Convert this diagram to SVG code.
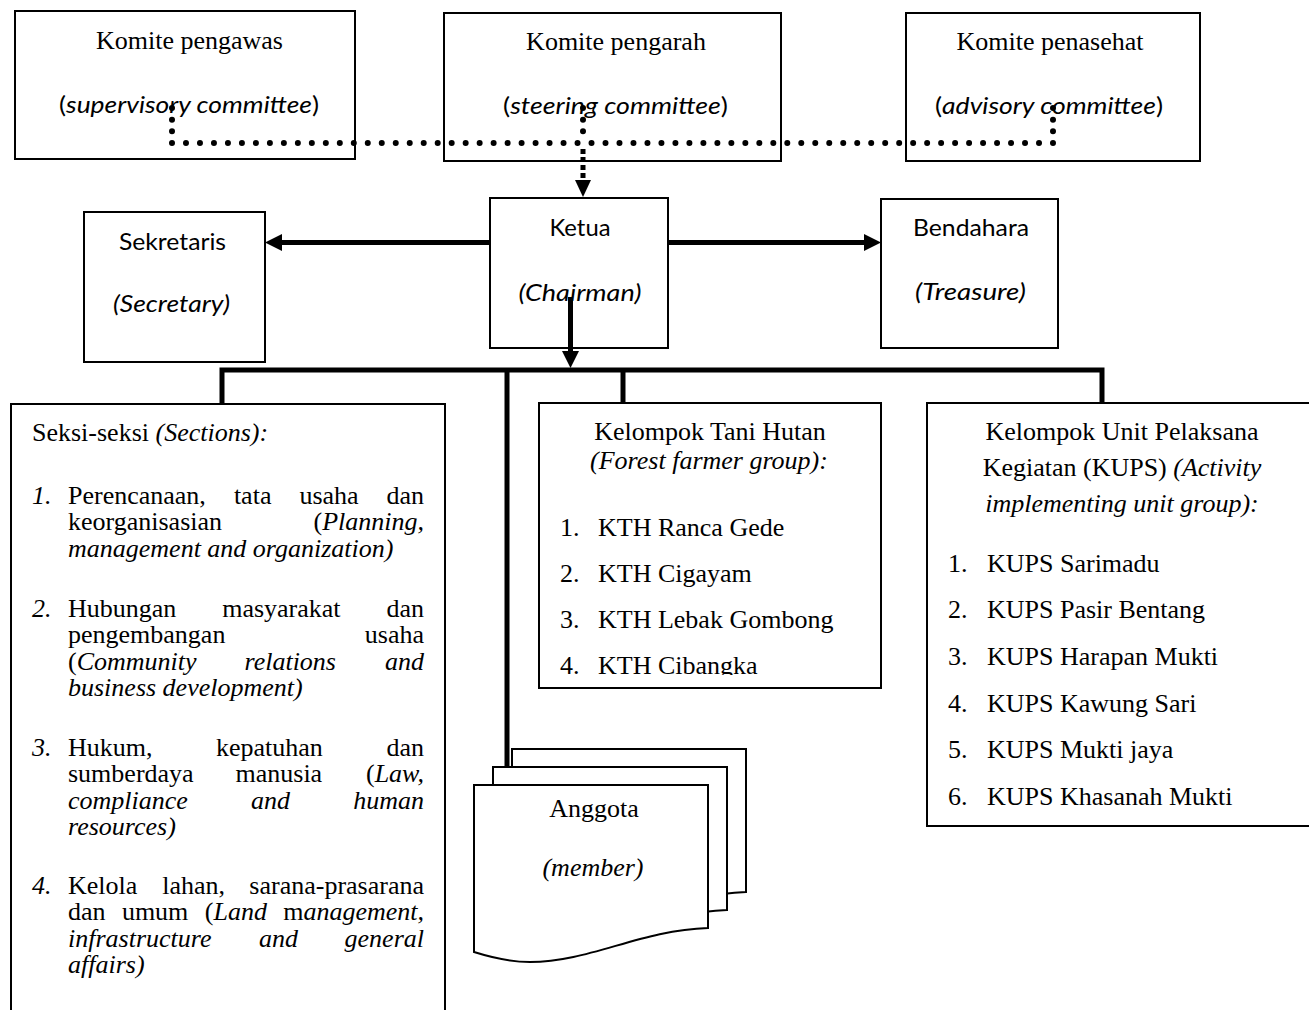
<svg xmlns="http://www.w3.org/2000/svg" width="1309" height="1010" viewBox="0 0 1309 1010">
<style>
.box{fill:#fff;stroke:#000;stroke-width:2}
.tr{font-family:"Liberation Serif","Times New Roman",serif;font-size:26px;fill:#000}
.it{font-style:italic}
.ca{font-family:Lato,"Open Sans",sans-serif;font-size:24px;fill:#000}
.thick{stroke:#000;stroke-width:5;fill:none}
.dots{stroke:#000;stroke-width:6;stroke-linecap:round;fill:none}
.head{fill:#000;stroke:none}
.mid{text-anchor:middle}
.end{text-anchor:end}
</style>
<defs>
<clipPath id="kthClip"><rect x="539" y="403" width="342" height="272"/></clipPath>
<path id="doc" d="M474,785 H708 V928 C640,930 590,962 530,962 C510,962 490,957 474,952 Z"/>
</defs>
<rect width="1309" height="1010" fill="#fff"/>

<g id="komite-pengawas">
<rect class="box" x="15" y="11" width="340" height="148"/>
<text class="tr mid" x="189.5" y="49">Komite pengawas</text>
<text class="ca mid" x="189" y="113" textLength="260" lengthAdjust="spacingAndGlyphs">(<tspan class="it">supervisory committee</tspan>)</text>
</g>
<g id="komite-pengarah">
<rect class="box" x="444" y="13" width="337" height="148"/>
<text class="tr mid" x="616" y="50">Komite pengarah</text>
<text class="ca mid" x="615.5" y="114" textLength="225" lengthAdjust="spacingAndGlyphs">(<tspan class="it">steering committee</tspan>)</text>
</g>
<g id="komite-penasehat">
<rect class="box" x="906" y="13" width="294" height="148"/>
<text class="tr mid" x="1050" y="50">Komite penasehat</text>
<text class="ca mid" x="1049" y="114" textLength="228" lengthAdjust="spacingAndGlyphs">(<tspan class="it">advisory committee</tspan>)</text>
</g>

<g id="ketua">
<rect class="box" x="490" y="198" width="178" height="150"/>
<text class="ca mid" x="580" y="236" textLength="61" lengthAdjust="spacingAndGlyphs">Ketua</text>
<text class="ca mid it" x="580" y="301" textLength="123" lengthAdjust="spacingAndGlyphs">(Chairman)</text>
</g>
<g id="sekretaris">
<rect class="box" x="84" y="212" width="181" height="150"/>
<text class="ca mid" x="172.5" y="250" textLength="107" lengthAdjust="spacingAndGlyphs">Sekretaris</text>
<text class="ca mid it" x="171.5" y="312" textLength="117" lengthAdjust="spacingAndGlyphs">(Secretary)</text>
</g>
<g id="bendahara">
<rect class="box" x="881" y="199" width="177" height="149"/>
<text class="ca mid" x="971" y="236" textLength="116" lengthAdjust="spacingAndGlyphs">Bendahara</text>
<text class="ca mid it" x="970.5" y="300" textLength="111" lengthAdjust="spacingAndGlyphs">(Treasure)</text>
</g>

<g id="seksi">
<rect class="box" x="11" y="404" width="434" height="640"/>
<text class="tr" x="32" y="441">Seksi-seksi <tspan class="it">(Sections):</tspan></text>
<text class="tr it" x="32" y="504">1.</text>
<text class="tr" x="68" y="504">Perencanaan,</text>
<text class="tr" x="233.9" y="504">tata</text>
<text class="tr" x="299.4" y="504">usaha</text>
<text class="tr end" x="424" y="504">dan</text>
<text class="tr" x="68" y="530.3">keorganisasian</text>
<text class="tr end" x="424" y="530.3">(<tspan class="it">Planning,</tspan></text>
<text class="tr it" x="68" y="556.6">management and organization)</text>
<text class="tr it" x="32" y="617">2.</text>
<text class="tr" x="68" y="617">Hubungan</text>
<text class="tr" x="222.2" y="617">masyarakat</text>
<text class="tr end" x="424" y="617">dan</text>
<text class="tr" x="68" y="643.3">pengembangan</text>
<text class="tr end" x="424" y="643.3">usaha</text>
<text class="tr" x="68" y="669.6">(<tspan class="it">Community</tspan></text>
<text class="tr it" x="244.5" y="669.6">relations</text>
<text class="tr it end" x="424" y="669.6">and</text>
<text class="tr it" x="68" y="696">business development)</text>
<text class="tr it" x="32" y="756">3.</text>
<text class="tr" x="68" y="756">Hukum,</text>
<text class="tr" x="216" y="756">kepatuhan</text>
<text class="tr end" x="424" y="756">dan</text>
<text class="tr" x="68" y="782.3">sumberdaya</text>
<text class="tr" x="235.5" y="782.3">manusia</text>
<text class="tr end" x="424" y="782.3">(<tspan class="it">Law,</tspan></text>
<text class="tr it" x="68" y="808.6">compliance</text>
<text class="tr it" x="251" y="808.6">and</text>
<text class="tr it end" x="424" y="808.6">human</text>
<text class="tr it" x="68" y="835">resources)</text>
<text class="tr it" x="32" y="894">4.</text>
<text class="tr" x="68" y="894">Kelola</text>
<text class="tr" x="162.2" y="894">lahan,</text>
<text class="tr end" x="424" y="894">sarana-prasarana</text>
<text class="tr" x="68" y="920.3">dan</text>
<text class="tr" x="121.9" y="920.3">umum</text>
<text class="tr" x="204.8" y="920.3">(<tspan class="it">Land</tspan></text>
<text class="tr end" x="424" y="920.3">m<tspan class="it">anagement,</tspan></text>
<text class="tr it" x="68" y="946.6">infrastructure</text>
<text class="tr it" x="259" y="946.6">and</text>
<text class="tr it end" x="424" y="946.6">general</text>
<text class="tr it" x="68" y="973">affairs)</text>
</g>

<g id="kth">
<rect class="box" x="539" y="403" width="342" height="285"/>
<g clip-path="url(#kthClip)">
<text class="tr mid" x="710" y="440">Kelompok Tani Hutan</text>
<text class="tr mid it" x="709" y="469">(Forest farmer group):</text>
<text class="tr" x="560" y="536">1.</text><text class="tr" x="598" y="536">KTH Ranca Gede</text>
<text class="tr" x="560" y="582">2.</text><text class="tr" x="598" y="582">KTH Cigayam</text>
<text class="tr" x="560" y="628">3.</text><text class="tr" x="598" y="628">KTH Lebak Gombong</text>
<text class="tr" x="560" y="674">4.</text><text class="tr" x="598" y="674">KTH Cibangka</text>
</g>
</g>

<g id="kups">
<rect class="box" x="927" y="403" width="392" height="423"/>
<text class="tr mid" x="1122" y="440">Kelompok Unit Pelaksana</text>
<text class="tr mid" x="1122" y="476">Kegiatan (KUPS) <tspan class="it">(Activity</tspan></text>
<text class="tr mid it" x="1122" y="512">implementing unit group):</text>
<text class="tr" x="948" y="571.5">1.</text><text class="tr" x="987" y="571.5">KUPS Sarimadu</text>
<text class="tr" x="948" y="618">2.</text><text class="tr" x="987" y="618">KUPS Pasir Bentang</text>
<text class="tr" x="948" y="664.5">3.</text><text class="tr" x="987" y="664.5">KUPS Harapan Mukti</text>
<text class="tr" x="948" y="711.5">4.</text><text class="tr" x="987" y="711.5">KUPS Kawung Sari</text>
<text class="tr" x="948" y="758">5.</text><text class="tr" x="987" y="758">KUPS Mukti jaya</text>
<text class="tr" x="948" y="804.5">6.</text><text class="tr" x="987" y="804.5">KUPS Khasanah Mukti</text>
</g>

<g id="connectors">
<path class="dots" stroke-dasharray="0 13.984" d="M172,143 H1053"/>
<path class="dots" stroke-dasharray="0 11.667" d="M172,108 V143"/>
<path class="dots" stroke-dasharray="0 11.667" d="M583,108 V143"/>
<path class="dots" stroke-dasharray="0 11.667" d="M1053,108 V143"/>
<path stroke="#000" stroke-width="5" stroke-dasharray="5 3" fill="none" d="M583,149 V181"/>
<polygon class="head" points="575,180 591,180 583,197"/>
<path class="thick" stroke-width="6" d="M490,242.5 H280"/>
<polygon class="head" points="265,242.5 282,234 282,251"/>
<path class="thick" stroke-width="6" d="M668,242.5 H866"/>
<polygon class="head" points="881,242.5 864,234 864,251"/>
<path class="thick" stroke-width="5" d="M570.5,297 V353"/>
<polygon class="head" points="570.5,368 562,351 579,351"/>
<path class="thick" d="M222,404 V370 H1102 V403"/>
<path class="thick" d="M623,370 V403"/>
<path class="thick" stroke-width="6" d="M507,372 V767"/>
</g>

<g id="anggota">
<use href="#doc" class="box" transform="translate(38,-36)"/>
<use href="#doc" class="box" transform="translate(19,-18)"/>
<use href="#doc" class="box"/>
<text class="tr mid" x="594" y="817">Anggota</text>
<text class="tr mid it" x="593" y="876">(member)</text>
</g>
</svg>
